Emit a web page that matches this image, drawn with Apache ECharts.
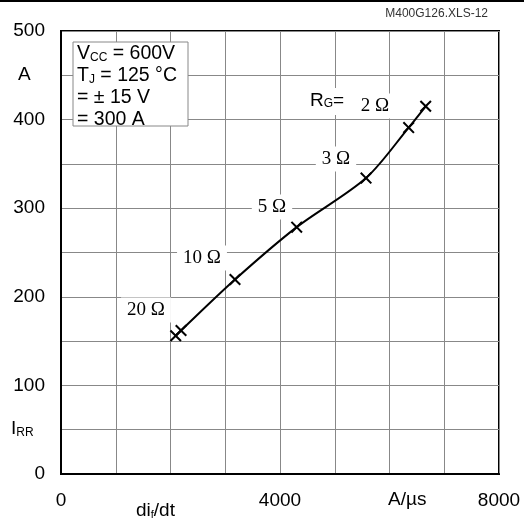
<!DOCTYPE html>
<html>
<head>
<meta charset="utf-8">
<script src="https://cdn.jsdelivr.net/npm/echarts@6/dist/echarts.min.js"></script>
<style>html,body{margin:0;padding:0;background:#fff;}#c{width:524px;height:521px;}</style>
</head>
<body>
<div id="c"></div>
<script>
// di_f/dt (A/µs) and I_RR (A)
const diDt = [2095, 2192, 3178, 4305, 5571, 6350, 6661];
const iRR  = [156, 162, 219.5, 278.6, 334, 391, 415];
const xTickLabels = [0, 4000, 8000];
const yTickLabels = [0, 100, 200, 300, 400, 500];
const rgLabels = ['20 Ω', '10 Ω', '5 Ω', '3 Ω', '2 Ω'];

const chart = echarts.init(document.getElementById('c'));
const sans = 'Liberation Sans, Arial, sans-serif';
const serif = 'Liberation Serif, Times New Roman, serif';
const xSym = 'path://M0,1.2L1.2,0L5,3.8L8.8,0L10,1.2L6.2,5L10,8.8L8.8,10L5,6.2L1.2,10L0,8.8L3.8,5Z';

function serifLabel(text, cx, cy) {
  return {type:'text', x:cx, y:cy, z:50,
    style:{text:text, font:'19px ' + serif, fill:'#000', backgroundColor:'#fff', padding:[3,6,3,6],
      align:'center', verticalAlign:'middle'}};
}

chart.setOption({
  animation:false,
  backgroundColor:'#fff',
  grid:{left:61, right:25, top:31, bottom:47, show:true, borderColor:'#000', borderWidth:2},
  xAxis:{type:'value', min:0, max:8000, interval:1000,
    axisLine:{show:true, lineStyle:{color:'#000', width:2}},
    axisTick:{show:false},
    splitLine:{show:true, lineStyle:{color:'#888', width:1}},
    axisLabel:{margin:17, color:'#000', fontSize:19, fontFamily:sans,
      formatter:v => xTickLabels.indexOf(v) >= 0 ? String(v) : ''}},
  yAxis:{type:'value', min:0, max:500, interval:50,
    axisLine:{show:true, lineStyle:{color:'#000', width:2}},
    axisTick:{show:false},
    splitLine:{show:true, lineStyle:{color:'#888', width:1}},
    axisLabel:{margin:16, color:'#000', fontSize:19, fontFamily:sans,
      formatter:v => yTickLabels.indexOf(v) >= 0 ? String(v) : ''}},
  series:[{type:'line', data:diDt.map((x,i)=>[x, iRR[i]]), smooth:0.3,
    lineStyle:{color:'#000', width:2}, symbol:xSym, symbolSize:12,
    itemStyle:{color:'#000'}, z:10}],
  graphic:[
    {type:'rect', shape:{x:0, y:0, width:524, height:2}, style:{fill:'#000'}},
    {type:'text', right:36, top:8, style:{text:'M400G126.XLS-12', font:'12px ' + sans, fill:'#333'}},
    {type:'text', left:18, top:65, style:{text:'A', font:'19px ' + sans, fill:'#000'}},
    {type:'text', left:11, top:419, style:{text:'{n|I}{s|RR}', font:'19px ' + sans, fill:'#000',
      rich:{n:{fontSize:19, fontFamily:sans, fill:'#000'}, s:{fontSize:12, fontFamily:sans, padding:[8,0,0,0]}}}},
    {type:'text', left:136, top:501, style:{text:'{n|di}{s|f}{n|/dt}', fill:'#000',
      rich:{n:{fontSize:19, fontFamily:sans}, s:{fontSize:11, fontFamily:sans, padding:[8,0,0,0]}}}},
    {type:'text', left:388, top:490, style:{text:'A/µs', font:'19px ' + sans, fill:'#000'}},
    {type:'rect', z:40, shape:{x:73, y:42, width:115, height:84}, style:{fill:'#fff', stroke:'#888', lineWidth:1}},
    {type:'text', z:41, left:77, top:44, style:{fill:'#000', text:
      '{n|V}{s|CC}{n| = 600V}\n{n|T}{s|J}{n| = 125 °C}\n{n|= ± 15 V}\n{n|= 300 A}',
      rich:{n:{fontSize:19.5, fontFamily:sans, lineHeight:22}, s:{fontSize:12, fontFamily:sans, lineHeight:22, padding:[7,0,0,0]}}}},
    {type:'text', left:306, top:88, z:50, style:{fill:'#000', backgroundColor:'#fff', padding:[3,4,5,4], text:'{n|R}{s|G}{n|=}',
      rich:{n:{fontSize:19, fontFamily:sans}, s:{fontSize:12, fontFamily:sans, padding:[7,0,0,0]}}}},
    serifLabel(rgLabels[4], 375, 106),
    serifLabel(rgLabels[3], 336, 159),
    serifLabel(rgLabels[2], 272, 207),
    serifLabel(rgLabels[1], 202, 258),
    serifLabel(rgLabels[0], 146, 310)
  ]
});
</script>
</body>
</html>
